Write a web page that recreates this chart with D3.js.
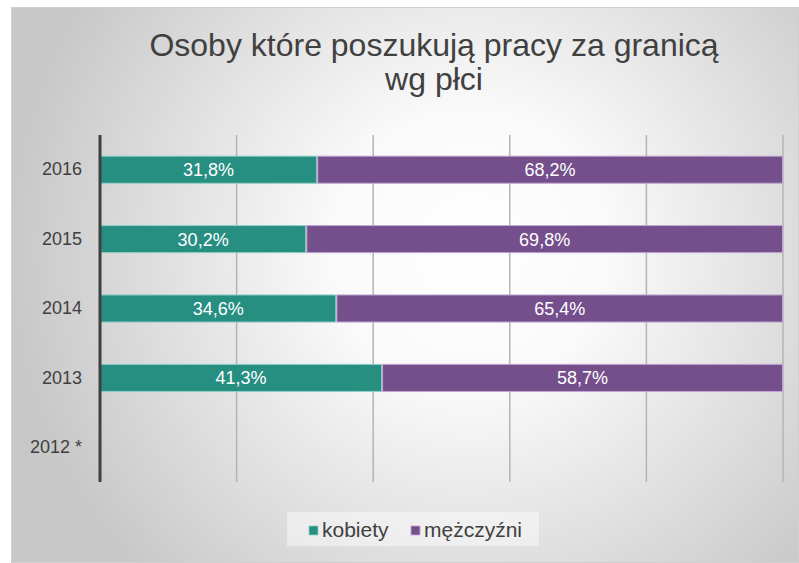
<!DOCTYPE html>
<html><head><meta charset="utf-8">
<script src="https://cdn.jsdelivr.net/npm/d3@7"></script>
<style>body{margin:0;background:#fff}svg{display:block}text{font-family:"Liberation Sans",Arial,sans-serif}</style>
</head><body>
<svg id="c" width="799" height="563"></svg>
<script>
const categories = ["2016", "2015", "2014", "2013", "2012 *"];
const kobiety = [31.8, 30.2, 34.6, 41.3, null];
const mezczyzni = [68.2, 69.8, 65.4, 58.7, null];
const xTicks = [0, 20, 40, 60, 80, 100];
const seriesNames = ["kobiety", "mężczyźni"];
const colors = ["#278e82", "#744f8c"];
const strokes = ["#8fcfc5", "#c0a6d4"];

const svg = d3.select("#c");
const defs = svg.append("defs");
const rg = defs.append("radialGradient").attr("id","bg").attr("gradientUnits","userSpaceOnUse")
  .attr("cx",470).attr("cy",250).attr("r",460);
rg.append("stop").attr("offset","0%").attr("stop-color","#ffffff");
rg.append("stop").attr("offset","30%").attr("stop-color","#fafafa");
rg.append("stop").attr("offset","100%").attr("stop-color","#c8c8c8");

svg.append("rect").attr("x",11.5).attr("y",7.5).attr("width",787).attr("height",555)
  .attr("fill","url(#bg)").attr("stroke","#d0d0d0");

const title = svg.append("text").attr("text-anchor","middle").attr("fill","#404040").attr("font-size",32);
title.append("tspan").attr("x",434).attr("y",56).text("Osoby które poszukują pracy za granicą");
title.append("tspan").attr("x",434).attr("y",90).text("wg płci");

const x = d3.scaleLinear().domain([0,100]).range([100,783]);
const y = d3.scaleBand().domain(categories).range([135,482]).paddingInner(0.61).paddingOuter(0.305);

// gridlines
svg.append("g").selectAll("line").data(xTicks.slice(1)).join("line")
  .attr("x1",d=>x(d)).attr("x2",d=>x(d)).attr("y1",135).attr("y2",482)
  .attr("stroke","#b4b4b4").attr("stroke-width",1.5);

const data = categories.map((c,i)=>({cat:c, vals:[kobiety[i], mezczyzni[i]]}));
const stack = [];
data.forEach(d=>{
  if (d.vals[0]==null) return;
  let acc = 0;
  d.vals.forEach((v,j)=>{ stack.push({cat:d.cat, j, x0:acc, x1:acc+v, v}); acc+=v; });
});

const g = svg.append("g");
g.selectAll("rect").data(stack).join("rect")
  .attr("x",d=>x(d.x0)+0.5).attr("width",d=>x(d.x1)-x(d.x0)-1)
  .attr("y",d=>y(d.cat)).attr("height",y.bandwidth())
  .attr("fill",d=>colors[d.j]).attr("stroke",d=>strokes[d.j]).attr("stroke-width",1);
g.selectAll("text").data(stack).join("text")
  .attr("x",d=>(x(d.x0)+x(d.x1))/2).attr("y",d=>y(d.cat)+y.bandwidth()/2)
  .attr("dy","0.36em").attr("text-anchor","middle").attr("fill","#fff").attr("font-size",18)
  .text(d=>d.v.toFixed(1).replace(".",",")+"%");

// y axis
const yAxis = d3.axisLeft(y).tickSize(0).tickPadding(18);
const ga = svg.append("g").attr("transform","translate(100,0)").call(yAxis);
ga.select(".domain").attr("d","M0,135V482").attr("stroke","#404040").attr("stroke-width",3);
ga.selectAll("text").attr("font-size",18).attr("fill","#404040").attr("font-family","Liberation Sans, Arial, sans-serif");

// legend
svg.append("rect").attr("x",287).attr("y",512).attr("width",252).attr("height",34).attr("fill","#fbfbfb").attr("opacity",0.5);
const lg = svg.append("g");
const lx = [309, 411];
seriesNames.forEach((n,i)=>{
  lg.append("rect").attr("x",lx[i]).attr("y",526).attr("width",9).attr("height",9)
    .attr("fill",colors[i]).attr("stroke",strokes[i]).attr("stroke-width",0.8);
  lg.append("text").attr("x",lx[i]+13).attr("y",537).attr("font-size",21).attr("fill","#404040").text(n);
});
</script>
</body></html>
